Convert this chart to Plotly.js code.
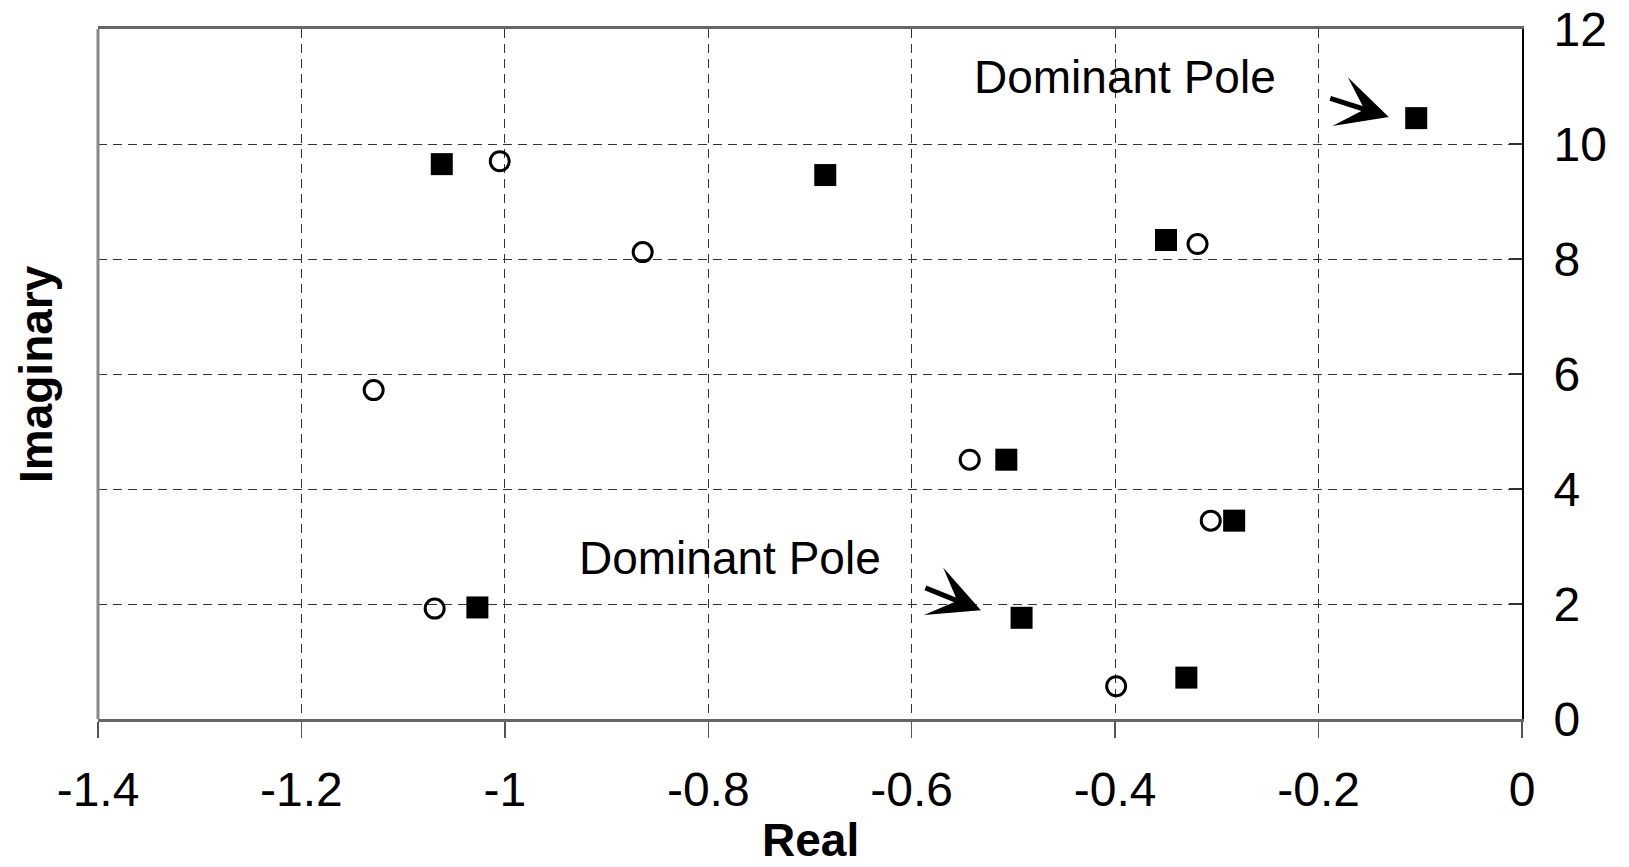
<!DOCTYPE html>
<html>
<head>
<meta charset="utf-8">
<script src="https://cdn.plot.ly/plotly-3.0.1.min.js"></script>
<style>
  html, body { margin: 0; padding: 0; background: #fff; }
  #chart { width: 1629px; height: 867px; }
</style>
</head>
<body>
<div id="chart"></div>
<script>
// Filled squares (real, imaginary)
const squareRe = [-1.062, -0.685, -0.350, -0.104, -0.507, -0.283, -1.027, -0.492, -0.330];
const squareIm = [9.65, 9.46, 8.33, 10.45, 4.51, 3.45, 1.94, 1.76, 0.72];

// Open circles (real, imaginary)
const circleRe = [-1.005, -0.8645, -0.319, -1.129, -0.543, -0.306, -1.069, -0.399];
const circleIm = [9.70, 8.12, 8.26, 5.72, 4.51, 3.45, 1.92, 0.57];

// Axis ticks
const xTickVals = [-1.4, -1.2, -1.0, -0.8, -0.6, -0.4, -0.2, 0];
const xTickText = ['-1.4', '-1.2', '-1', '-0.8', '-0.6', '-0.4', '-0.2', '0'];
const yTickVals = [0, 2, 4, 6, 8, 10, 12];

// Callouts: label position, arrow tail and arrow head
const calloutText = ['Dominant Pole', 'Dominant Pole'];
const calloutX = [-0.390, -0.779];
const calloutY = [11.17, 2.80];
const arrowTailX = [-0.190, -0.588];
const arrowTailY = [10.80, 2.29];
const arrowHeadX = [-0.131, -0.532];
const arrowHeadY = [10.47, 1.89];

const FONT = 'Liberation Sans, Arial, Helvetica, sans-serif';

// Plot-area geometry in pixels (used to place the axis titles)
const W = 1629, H = 867;
const PLOT_L = 98, PLOT_R = 1522, PLOT_T = 29, PLOT_B = 719;

const traces = [
  {
    x: squareRe, y: squareIm, type: 'scatter', mode: 'markers',
    marker: { symbol: 'square', size: 22, color: '#000', line: { width: 0 } },
    showlegend: false, hoverinfo: 'x+y'
  },
  {
    x: circleRe, y: circleIm, type: 'scatter', mode: 'markers',
    marker: { symbol: 'circle-open', size: 19, color: '#000', line: { width: 3, color: '#000' } },
    showlegend: false, hoverinfo: 'x+y'
  }
];

const annotations = [];
for (let i = 0; i < calloutText.length; i++) {
  annotations.push({
    x: calloutX[i], y: calloutY[i], xref: 'x', yref: 'y',
    text: calloutText[i], showarrow: false,
    font: { family: FONT, size: 46, color: '#000' },
    xanchor: 'center', yanchor: 'middle'
  });
  annotations.push({
    x: arrowHeadX[i], y: arrowHeadY[i], xref: 'x', yref: 'y',
    ax: arrowTailX[i], ay: arrowTailY[i], axref: 'x', ayref: 'y',
    text: '', showarrow: true, arrowhead: 3, arrowsize: 1.7, arrowwidth: 5,
    arrowcolor: '#000', standoff: 0, startstandoff: 0
  });
}
// Axis titles: vertical one on the left while the ticks sit on the right
annotations.push({
  x: (36 - PLOT_L) / (PLOT_R - PLOT_L), y: 0.5, xref: 'paper', yref: 'paper',
  text: '<b>Imaginary</b>', showarrow: false, textangle: -90,
  font: { family: FONT, size: 46, color: '#000' },
  xanchor: 'center', yanchor: 'middle'
});
annotations.push({
  x: 0.5, y: (PLOT_B - H) / (PLOT_B - PLOT_T), xref: 'paper', yref: 'paper',
  text: '<b>Real</b>', showarrow: false, borderpad: 0,
  font: { family: FONT, size: 46, color: '#000' },
  xanchor: 'center', yanchor: 'bottom'
});

const layout = {
  width: W, height: H,
  margin: { l: PLOT_L, r: W - PLOT_R, t: PLOT_T, b: H - PLOT_B },
  paper_bgcolor: '#fff', plot_bgcolor: '#fff',
  showlegend: false,
  font: { family: FONT, size: 46, color: '#000' },
  xaxis: {
    range: [-1.4, 0], tickvals: xTickVals, ticktext: xTickText,
    showgrid: true, gridcolor: '#333', gridwidth: 1, griddash: '9px,6px',
    zeroline: false, showline: true, linecolor: '#666', linewidth: 3, mirror: true,
    ticks: 'outside', ticklen: 16, tickwidth: 1.5, tickcolor: '#555',
    tickfont: { family: FONT, size: 48, color: '#000' },
    ticklabelstandoff: 10
  },
  yaxis: {
    range: [0, 12], tickvals: yTickVals, side: 'right',
    showgrid: true, gridcolor: '#333', gridwidth: 1, griddash: '9px,6px',
    zeroline: false, showline: true, linecolor: '#000', linewidth: 2, mirror: false,
    ticks: 'inside', ticklen: 13, tickwidth: 1.5, tickcolor: '#333',
    tickfont: { family: FONT, size: 48, color: '#000' },
    ticklabelstandoff: 20
  },
  shapes: [
    // Grey frame edge on the left of the plot area
    { type: 'line', xref: 'paper', yref: 'paper', x0: 0, x1: 0, y0: 0, y1: 1,
      line: { color: '#888', width: 3 } }
  ],
  annotations: annotations
};

Plotly.newPlot('chart', traces, layout, { displayModeBar: false, staticPlot: true });
</script>
</body>
</html>
